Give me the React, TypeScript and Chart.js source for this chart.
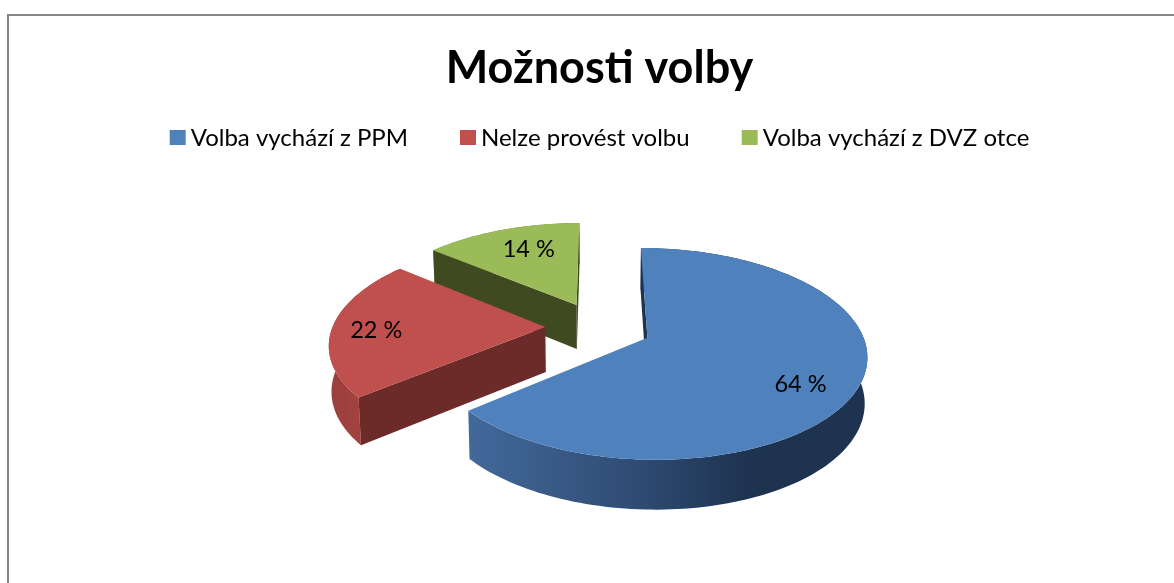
import React, { useEffect, useRef } from "react";
import { Chart, registerables } from "chart.js";

Chart.register(...registerables);

const categories = ["Volba vychází z PPM", "Nelze provést volbu", "Volba vychází z DVZ otce"];
const shares = [64, 22, 14];
const topColors = ["#4F81BD", "#C0504D", "#9BBB59"];
const cutColors = ["#1E3350", "#6C2A28", "#3F4A20"];
const wallStops: [number, string][][] = [
  [[0, "#42699B"], [0.42, "#2F4C73"], [0.7, "#1E3350"], [1, "#1E3350"]],
  [[0, "#9A3F3D"], [0.5, "#A3433F"], [1, "#A3433F"]],
  [[0, "#7A9446"], [1, "#5F7336"]],
];
// label anchor in the pie plane, relative to the slice tip, in radii
const labelU = [0.648, -0.79, -0.264];
const labelV = [0.424, 0.03, -0.648];

const FONT = "Lato, 'Open Sans', sans-serif";

// view of the tilted pie, as ratios of the library's radius
const EXPLODE = 0.25;
const SCALE_X = 1.274;
const SCALE_Y = 0.6;
const DEPTH = 0.269;
const PERSP = 0.149;
const PERSP_DEPTH = 0.09;
const DEPTH_SHRINK = 0.01;
const VIEW_SHIFT_X = -1;

const pie3d = {
  id: "pie3d",
  beforeDatasetsDraw(chart: any) {
    const ctx = chart.ctx;
    const arcs = chart.getDatasetMeta(0).data;
    const { y: cy, outerRadius: R } = arcs[0];
    const cx = arcs[0].x + VIEW_SHIFT_X;
    const top = (u: number, v: number) => {
      const k = 1 - PERSP * v;
      return { x: cx + (R * SCALE_X * u) / k, y: cy + (R * SCALE_Y * v) / k };
    };
    const bottom = (u: number, v: number) => {
      const p = top(u, v);
      return { x: p.x - (p.x - cx) * DEPTH_SHRINK, y: p.y + (R * DEPTH) / (1 - PERSP_DEPTH * v) };
    };
    const poly = (pts: { x: number; y: number }[], fill: any) => {
      ctx.beginPath();
      pts.forEach((p, i) => (i ? ctx.lineTo(p.x, p.y) : ctx.moveTo(p.x, p.y)));
      ctx.closePath();
      ctx.fillStyle = fill;
      ctx.fill();
    };
    ctx.save();
    for (const i of [2, 1, 0]) {
      const a = arcs[i];
      const mid = (a.startAngle + a.endAngle) / 2;
      const ou = EXPLODE * Math.cos(mid);
      const ov = EXPLODE * Math.sin(mid);
      const rim: [number, number][] = [];
      const n = Math.ceil(((a.endAngle - a.startAngle) * 180) / Math.PI / 1.5);
      for (let s = 0; s <= n; s++) {
        const t = a.startAngle + ((a.endAngle - a.startAngle) * s) / n;
        rim.push([ou + Math.cos(t), ov + Math.sin(t)]);
      }
      const first = rim[0];
      const last = rim[rim.length - 1];
      const rimTop = rim.map(([u, v]) => top(u, v));
      const rimBottom = rim.map(([u, v]) => bottom(u, v)).reverse();
      const xs = rimTop.map((p) => p.x);
      const grad = ctx.createLinearGradient(Math.min(...xs), 0, Math.max(...xs), 0);
      wallStops[i].forEach(([o, c]) => grad.addColorStop(o, c));
      poly([...rimTop, ...rimBottom], grad);
      // a cut face shows only when the downward extrusion leaves the slice
      if (Math.cos(a.startAngle) < 1e-6) {
        poly([top(ou, ov), top(first[0], first[1]), bottom(first[0], first[1]), bottom(ou, ov)], cutColors[i]);
      }
      if (Math.cos(a.endAngle) > -1e-6) {
        poly([top(ou, ov), top(last[0], last[1]), bottom(last[0], last[1]), bottom(ou, ov)], cutColors[i]);
      }
      poly([top(ou, ov), ...rimTop], topColors[i]);
    }
    ctx.fillStyle = "#000";
    ctx.font = `23.5px ${FONT}`;
    ctx.textAlign = "center";
    ctx.textBaseline = "middle";
    arcs.forEach((a: any, i: number) => {
      const mid = (a.startAngle + a.endAngle) / 2;
      const p = top(EXPLODE * Math.cos(mid) + labelU[i], EXPLODE * Math.sin(mid) + labelV[i]);
      ctx.fillText(`${shares[i]} %`, p.x, p.y);
    });
    ctx.restore();
    return false;
  },
  afterDraw(chart: any) {
    const boxes = chart.legend?.legendHitBoxes;
    if (!boxes) return;
    const ctx = chart.ctx;
    ctx.save();
    boxes.forEach((b: any, i: number) => {
      ctx.fillStyle = topColors[i];
      ctx.fillRect(b.left, b.top + b.height / 2 - 8, 16, 15);
    });
    ctx.restore();
  },
};

export default function App() {
  const ref = useRef<HTMLCanvasElement>(null);
  useEffect(() => {
    const chart = new Chart(ref.current!, {
      type: "pie",
      data: {
        labels: categories,
        datasets: [{ data: shares, backgroundColor: topColors, borderWidth: 0 }],
      },
      plugins: [pie3d as any],
      options: {
        animation: false,
        responsive: false,
        events: [],
        layout: { padding: { left: 25, right: 0, top: 41, bottom: 89 } },
        plugins: {
          title: {
            display: true,
            text: "Možnosti volby",
            color: "#000",
            font: { family: FONT, size: 45, weight: "bold" },
            padding: { top: 0, bottom: -21 },
          },
          legend: {
            display: true,
            position: "top",
            labels: {
              color: "#000",
              font: { family: FONT, size: 24 },
              boxWidth: 9,
              boxHeight: 15,
              padding: 52,
              generateLabels: () =>
                categories.map((text, index) => ({
                  text,
                  index,
                  fillStyle: "transparent",
                  strokeStyle: "transparent",
                  lineWidth: 0,
                  fontColor: "#000",
                })),
            },
          },
          tooltip: { enabled: false },
        },
      },
    });
    return () => chart.destroy();
  }, []);
  return (
    <div style={{ position: "fixed", left: 0, top: 0, width: 1174, height: 583, overflow: "hidden", background: "#fff" }}>
      <div
        style={{
          position: "absolute",
          left: 7,
          top: 14,
          width: 1200,
          height: 600,
          borderTop: "2px solid #868686",
          borderLeft: "2px solid #868686",
        }}
      />
      <canvas ref={ref} width={1174} height={583} style={{ position: "absolute", left: 0, top: 0 }} />
    </div>
  );
}
